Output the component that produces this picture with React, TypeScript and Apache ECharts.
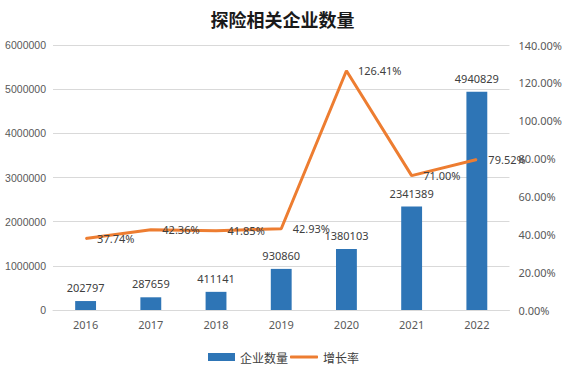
import React, { useEffect, useRef } from "react";
import * as echarts from "echarts";

const years = ["2016", "2017", "2018", "2019", "2020", "2021", "2022"];
const counts = [202797, 287659, 411141, 930860, 1380103, 2341389, 4940829];
const growth = [37.74, 42.36, 41.85, 42.93, 126.41, 71.0, 79.52];

const FONT = "'Noto Sans', 'Noto Sans CJK SC', sans-serif";
const NUMFONT = "'Liberation Sans', Arial, sans-serif";
const LEGEND_TEXT = { fontFamily: "'Noto Sans CJK SC', sans-serif", fontSize: 12, color: "#404040" };

export default function App() {
  const ref = useRef<HTMLDivElement>(null);
  useEffect(() => {
    if (!ref.current) return;
    const chart = echarts.init(ref.current, undefined, { renderer: "svg" });
    chart.setOption({
      animation: false,
      backgroundColor: "#ffffff",
      title: {
        text: "探险相关企业数量",
        left: "center",
        top: 5,
        textStyle: {
          fontFamily: "'Noto Sans CJK SC', serif",
          fontWeight: "bold",
          fontSize: 18,
          color: "#1a1a1a",
        },
      },
      legend: [
        {
          left: 203,
          top: 346,
          itemWidth: 27,
          itemHeight: 8,
          itemGap: 6,
          textStyle: LEGEND_TEXT,
          data: [{ name: "企业数量", icon: "rect" }],
        },
        {
          left: 285,
          top: 346,
          itemWidth: 28,
          itemHeight: 3,
          itemGap: 6,
          textStyle: LEGEND_TEXT,
          data: [{ name: "增长率", icon: "roundRect" }],
        },
      ],
      grid: { left: 53, right: 52, top: 45, bottom: 61, containLabel: false },
      xAxis: {
        type: "category",
        data: years,
        axisLine: { lineStyle: { color: "#d9d9d9" } },
        axisTick: { show: false },
        axisLabel: { fontFamily: FONT, fontSize: 11, color: "#595959", margin: 9 },
      },
      yAxis: [
        {
          type: "value",
          min: 0,
          max: 6000000,
          interval: 1000000,
          axisLine: { show: false },
          axisTick: { show: false },
          splitLine: { lineStyle: { color: "#d9d9d9" } },
          axisLabel: {
            fontFamily: NUMFONT,
            fontSize: 10.5,
            color: "#595959",
            margin: 7,
            formatter: (v: number) => String(v),
          },
        },
        {
          type: "value",
          min: 0,
          max: 140,
          interval: 20,
          axisLine: { show: false },
          axisTick: { show: false },
          splitLine: { show: false },
          axisLabel: {
            fontFamily: FONT,
            fontSize: 11,
            color: "#595959",
            margin: 9,
            formatter: (v: number) => v.toFixed(2) + "%",
          },
        },
      ],
      series: [
        {
          name: "企业数量",
          type: "bar",
          data: counts,
          barWidth: "32%",
          itemStyle: { color: "#2E75B6" },
          label: {
            show: true,
            position: "top",
            distance: 8,
            fontFamily: FONT,
            fontSize: 11,
            color: "#404040",
          },
        },
        {
          name: "增长率",
          type: "line",
          yAxisIndex: 1,
          data: growth,
          symbol: "circle",
          symbolSize: 1,
          showSymbol: true,
          lineStyle: { color: "#ED7D31", width: 3 },
          itemStyle: { color: "#ED7D31" },
          label: {
            show: true,
            position: "right",
            distance: 11,
            fontFamily: FONT,
            fontSize: 11,
            color: "#404040",
            formatter: (p: any) => p.value.toFixed(2) + "%",
          },
          labelLayout: { hideOverlap: false },
        },
      ],
    });
    return () => chart.dispose();
  }, []);
  return (
    <div
      ref={ref}
      style={{ position: "absolute", left: 0, top: 0, width: 565, height: 371 }}
    />
  );
}
